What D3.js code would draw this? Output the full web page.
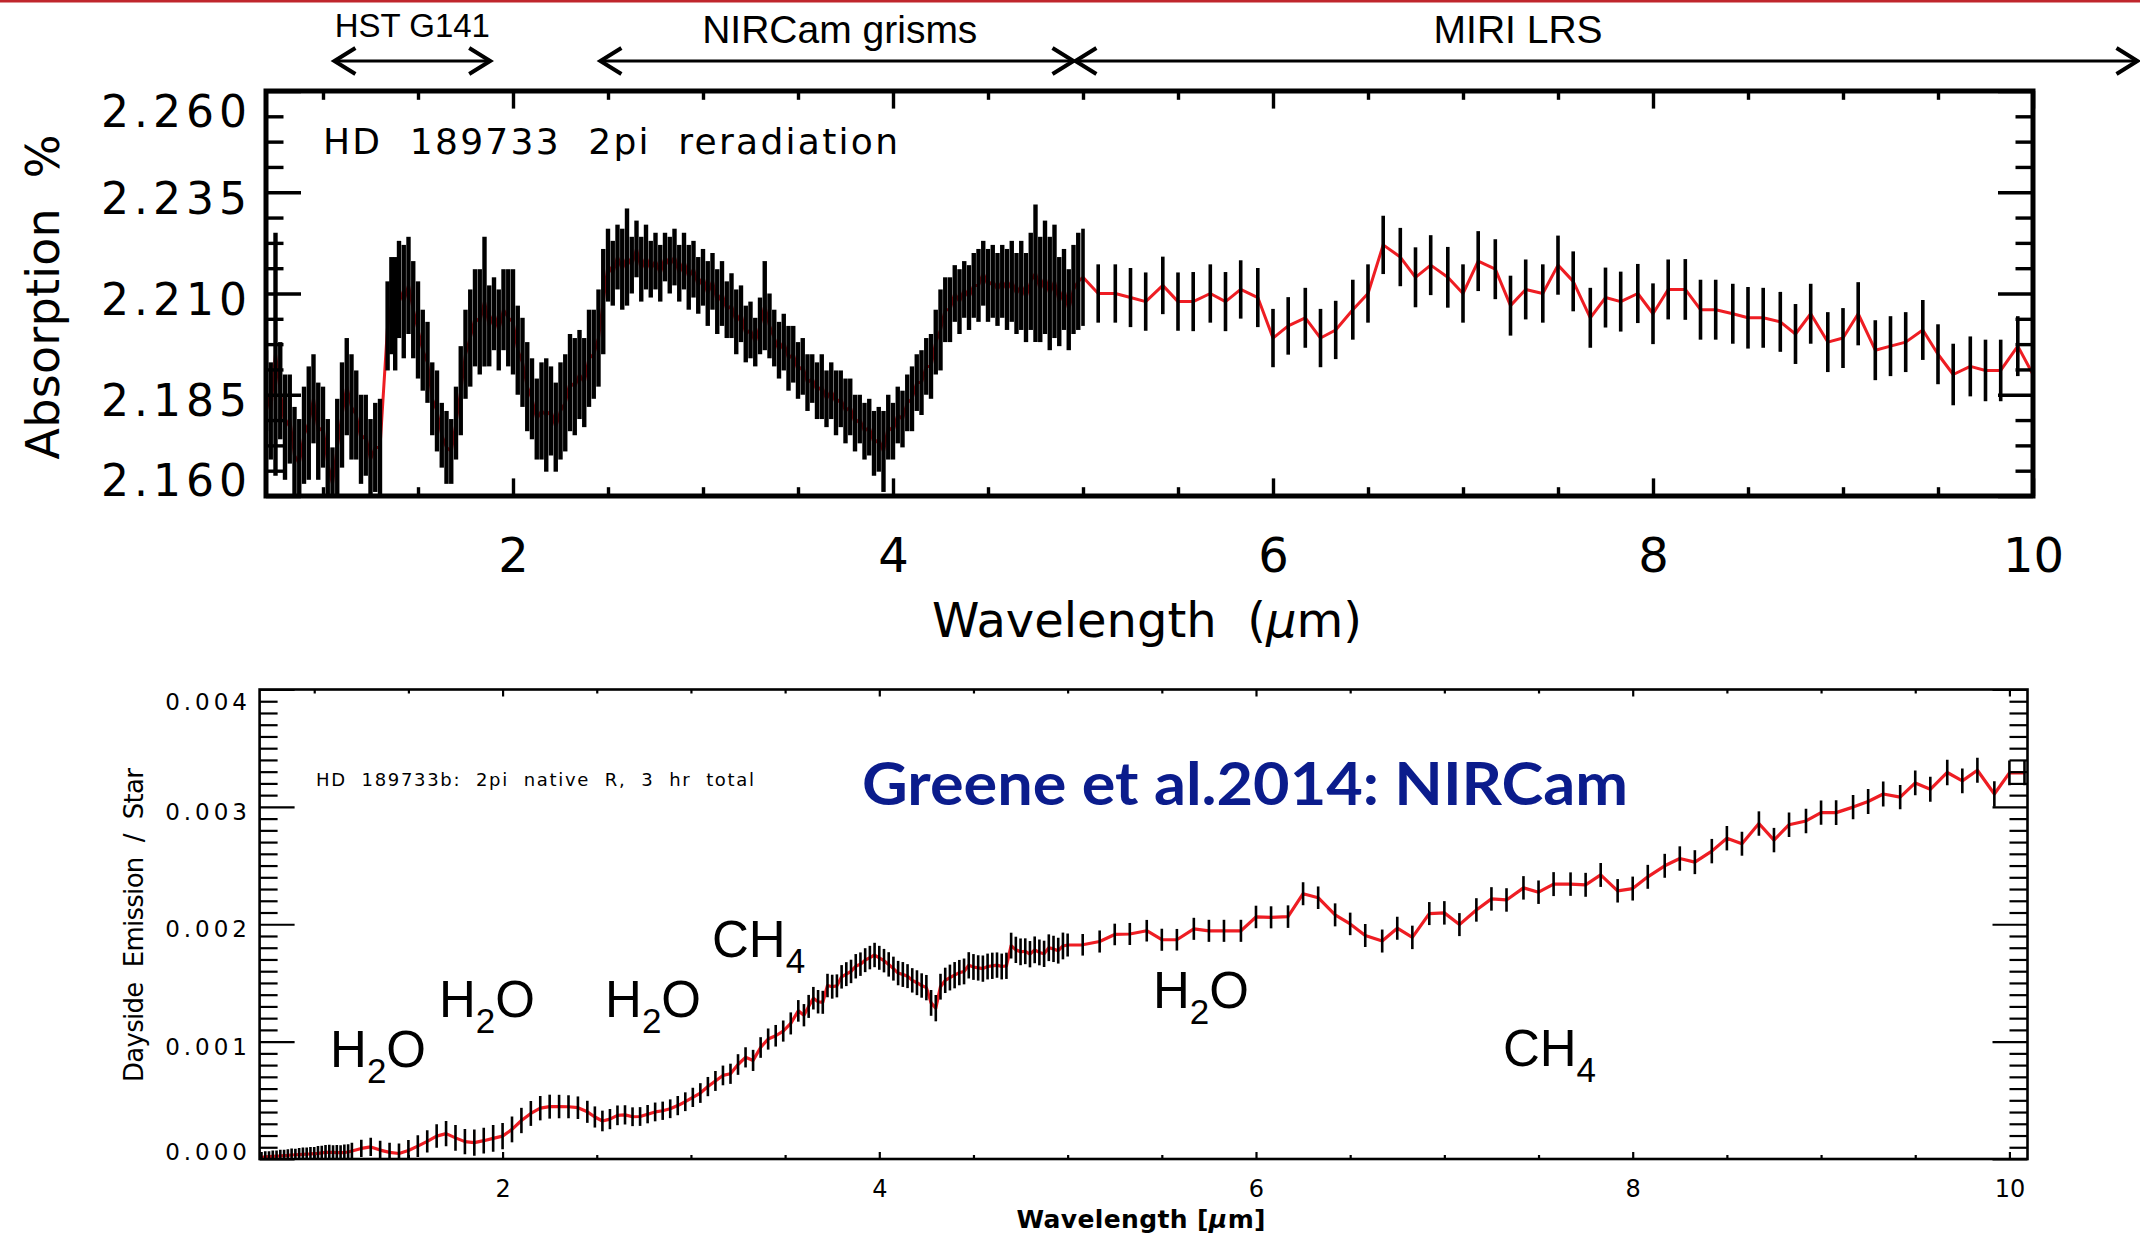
<!DOCTYPE html>
<html>
<head>
<meta charset="utf-8">
<script src="https://cdnjs.cloudflare.com/ajax/libs/d3/7.8.5/d3.min.js"></script>
<style>
  body { margin: 0; background: #fff; }
  svg { display: block; }
</style>
</head>
<body>
<div id="chart"></div>
<script>
// ---------------- data ----------------
var waveTicks = [2, 4, 6, 8, 10]
var waveMinorTicks = [1, 1.5, 2.5, 3, 3.5, 4.5, 5, 5.5, 6.5, 7, 7.5, 8.5, 9, 9.5]
var absTicks = [2.160, 2.185, 2.210, 2.235, 2.260]
var absMinorTicks = [2.16625, 2.1725, 2.17875, 2.19125, 2.1975, 2.20375, 2.21625, 2.2225, 2.22875, 2.24125, 2.2475, 2.25375]
var emisTicks = [0, 0.001, 0.002, 0.003, 0.004]

// instrument ranges drawn as arrows above the top panel (wavelength, um)
var modeNames = ["HST G141", "NIRCam grisms", "MIRI LRS"]
var modeFrom = [1.06, 2.46, 4.96]
var modeTo = [1.88, 4.95, 10.55]
var modeLabelAt = [1.47, 3.72, 7.29]

// top panel: transit absorption, dense part (HST + NIRCam)
var topNirWave = [0.7,0.725,0.75,0.775,0.8,0.825,0.85,0.875,0.9,0.925,0.95,0.975,1,1.025,1.05,1.075,1.1,1.125,1.15,1.175,1.2,1.225,1.25,1.275,1.3,
  1.34,1.36,1.38,1.4,1.425,1.45,1.475,1.5,1.525,1.55,1.575,1.6,1.625,1.65,1.675,1.7,1.725,1.75,1.775,1.8,1.825,1.85,1.875,1.9,1.925,1.95,1.975,2,2.025,2.05,2.075,2.1,2.125,2.15,2.175,2.2,2.225,2.25,2.275,2.3,2.325,2.35,2.375,2.4,2.425,2.45,2.475,
  2.5,2.525,2.55,2.575,2.6,2.625,2.65,2.675,2.7,2.725,2.75,2.775,2.8,2.825,2.85,2.875,2.9,2.925,2.95,2.975,
  3,3.025,3.05,3.075,3.1,3.125,3.15,3.175,3.2,3.225,3.25,3.275,3.3,3.325,3.35,3.375,3.4,3.425,3.45,3.475,
  3.5,3.525,3.55,3.575,3.6,3.625,3.65,3.675,3.7,3.725,3.75,3.775,3.8,3.825,3.85,3.875,3.9,3.925,3.95,3.975,
  4,4.025,4.05,4.075,4.1,4.125,4.15,4.175,4.2,4.225,4.25,4.275,4.3,4.325,4.35,4.375,4.4,4.425,4.45,4.475,
  4.5,4.525,4.55,4.575,4.6,4.625,4.65,4.675,4.7,4.725,4.75,4.775,4.8,4.825,4.85,4.875,4.9,4.925,4.95,4.975]
var topNirAbs = [2.186,2.181,2.195,2.186,2.177,2.179,2.170,2.168,2.175,2.178,2.184,2.176,2.177,2.168,2.163,2.172,2.180,2.187,2.182,2.180,2.174,2.175,2.169,2.172,2.172,
  2.202,2.207,2.205,2.211,2.208,2.212,2.206,2.201,2.196,2.193,2.184,2.181,2.175,2.172,2.171,2.178,2.186,2.195,2.199,2.204,2.203,2.208,2.202,2.205,2.201,2.206,2.204,2.203,2.196,2.193,2.187,2.184,2.179,2.181,2.180,2.181,2.177,2.181,2.183,2.188,2.187,2.190,2.188,2.194,2.195,2.199,2.208,
  2.217,2.215,2.219,2.216,2.219,2.217,2.221,2.216,2.219,2.216,2.218,2.215,2.219,2.217,2.219,2.215,2.218,2.214,2.216,2.212,
  2.214,2.210,2.213,2.208,2.210,2.206,2.207,2.203,2.205,2.200,2.201,2.198,2.202,2.207,2.202,2.199,2.196,2.198,2.194,2.195,
  2.191,2.192,2.188,2.189,2.186,2.187,2.184,2.186,2.183,2.184,2.181,2.182,2.178,2.179,2.176,2.177,2.173,2.174,2.171,2.177,
  2.176,2.180,2.179,2.183,2.184,2.188,2.188,2.192,2.192,2.198,2.201,2.206,2.206,2.210,2.208,2.211,2.209,2.212,2.212,2.215,
  2.212,2.213,2.211,2.213,2.211,2.213,2.210,2.212,2.209,2.213,2.215,2.211,2.214,2.210,2.213,2.208,2.211,2.206,2.211,2.213]
var topNirErr = [0.010,0.012,0.030,0.012,0.013,0.011,0.012,0.011,0.012,0.014,0.011,0.012,0.010,0.011,0.009,0.012,0.013,0.012,0.013,0.011,0.011,0.010,0.010,0.011,0.012,
  0.011,0.012,0.014,0.012,0.014,0.012,0.012,0.012,0.010,0.010,0.009,0.010,0.008,0.009,0.008,0.009,0.011,0.011,0.012,0.012,0.013,0.016,0.010,0.009,0.010,0.010,0.012,0.013,0.011,0.011,0.011,0.010,0.010,0.012,0.014,0.011,0.011,0.012,0.012,0.012,0.012,0.011,0.011,0.012,0.011,0.012,0.013,
  0.009,0.008,0.008,0.010,0.012,0.007,0.007,0.008,0.008,0.007,0.007,0.007,0.006,0.007,0.007,0.007,0.007,0.008,0.007,0.007,
  0.007,0.008,0.007,0.008,0.008,0.007,0.008,0.008,0.007,0.007,0.007,0.006,0.007,0.011,0.008,0.007,0.007,0.007,0.008,0.007,
  0.007,0.007,0.007,0.006,0.007,0.008,0.007,0.007,0.008,0.007,0.008,0.007,0.007,0.006,0.007,0.007,0.008,0.008,0.010,0.008,
  0.007,0.007,0.007,0.007,0.008,0.007,0.008,0.007,0.008,0.008,0.010,0.008,0.008,0.007,0.008,0.007,0.008,0.008,0.009,0.008,
  0.009,0.009,0.009,0.009,0.010,0.010,0.010,0.011,0.011,0.012,0.017,0.013,0.014,0.014,0.014,0.011,0.010,0.010,0.011,0.012]

// MIRI LRS grid (shared by both panels)
var miriWave = [5.00,5.08,5.17,5.25,5.33,5.42,5.50,5.58,5.67,5.75,5.83,5.92,6.00,6.08,6.17,6.25,6.33,6.42,6.50,6.58,6.67,6.75,6.83,6.92,7.00,7.08,7.17,7.25,7.33,7.42,
  7.50,7.58,7.67,7.75,7.83,7.92,8.00,8.08,8.17,8.25,8.33,8.42,8.50,8.58,8.67,8.75,8.83,8.92,9.00,9.08,9.17,9.25,9.33,9.42,9.50,9.58,9.67,9.75,9.83,9.92,10.00]
var topMiriAbs = [2.214,2.210,2.210,2.209,2.208,2.212,2.208,2.208,2.210,2.208,2.211,2.209,2.199,2.202,2.204,2.199,2.201,2.206,2.210,2.222,
  2.219,2.214,2.217,2.214,2.210,2.218,2.216,2.207,2.211,2.210,2.217,2.213,2.204,2.209,2.208,2.210,2.205,2.211,2.211,2.206,
  2.206,2.205,2.204,2.204,2.203,2.200,2.205,2.198,2.199,2.205,2.196,2.197,2.198,2.201,2.195,2.190,2.192,2.191,2.191,2.197,2.190]
var topMiriErr = [0.012,0.0072,0.0072,0.0073,0.0072,0.0071,0.0072,0.0073,0.0072,0.0073,0.0072,0.0073,0.0072,0.0071,0.0074,0.0072,0.0072,0.0074,0.0072,0.0072,
  0.0072,0.0074,0.0074,0.0075,0.0072,0.0074,0.0074,0.0074,0.0074,0.0072,0.0073,0.0074,0.0074,0.0074,0.0074,0.0073,0.0075,0.0074,0.0075,0.0074,
  0.0074,0.0074,0.0076,0.0074,0.0074,0.0074,0.0074,0.0074,0.0074,0.0078,0.0074,0.0074,0.0074,0.0074,0.0074,0.0076,0.0074,0.0076,0.0076,0.0074,0.0072]

// bottom panel: dayside emission / star
var lowNirWave = [0.72,0.74,0.76,0.78,0.8,0.82,0.84,0.86,0.88,0.9,0.92,0.94,0.96,0.98,1,1.02,1.04,1.06,1.08,1.1,1.12,1.14,1.16,1.18,1.2,
  1.25,1.3,1.35,1.4,1.45,1.5,1.55,1.6,1.65,1.7,1.75,1.8,1.85,1.9,1.95,2,2.05,2.1,2.15,2.2,2.25,2.3,2.35,2.4,2.45,
  2.49,2.53,2.57,2.61,2.65,2.69,2.73,2.77,2.81,2.85,2.89,2.93,2.97,3.01,3.05,3.09,3.13,3.17,3.21,3.25,3.29,3.33,3.37,3.41,3.45,3.49,3.53,3.57,
  3.6,3.625,3.65,3.675,3.7,3.725,3.75,3.775,3.8,3.825,3.85,3.875,3.9,3.925,3.95,3.975,4,4.025,4.05,4.075,4.1,4.125,4.15,4.175,4.2,4.225,4.25,4.275,
  4.3,4.325,4.35,4.375,4.4,4.425,4.45,4.475,4.5,4.525,4.55,4.575,4.6,4.625,4.65,4.675,4.7,4.725,4.75,4.775,4.8,4.825,4.85,4.875,4.9,4.925,4.95,4.975]
var lowNirEmis = [0.000015,0.000018,0.000020,0.000022,0.000024,0.000026,0.000029,0.000031,0.000034,0.000036,0.000038,0.000040,0.000042,0.000043,0.000045,0.000048,0.000052,0.000056,0.000057,0.000056,0.000054,0.000054,0.000055,0.000060,0.000068,
  0.000090,0.000103,0.000076,0.000056,0.000047,0.000072,0.000110,0.000150,0.000195,0.000216,0.000180,0.000148,0.000139,0.000156,0.000176,0.000195,0.000252,0.000328,0.000388,0.000433,0.000446,0.000447,0.000445,0.000437,0.000402,
  0.000358,0.000324,0.000340,0.000372,0.000376,0.000360,0.000362,0.000382,0.000401,0.000411,0.000428,0.000455,0.000488,0.000525,0.000562,0.000617,0.000665,0.000712,0.000726,0.000805,0.000866,0.000840,0.000950,0.001022,0.001050,0.001090,0.001155,0.001262,
  0.001225,0.001300,0.001370,0.001340,0.001335,0.001478,0.001468,0.001475,0.001552,0.001575,0.001598,0.001642,0.001660,0.001694,0.001716,0.001738,0.001714,0.001690,0.001658,0.001622,0.001584,0.001572,0.001558,0.001522,0.001502,0.001478,0.001460,0.001330,
  0.001285,0.001468,0.001522,0.001546,0.001566,0.001588,0.001598,0.001650,0.001636,0.001628,0.001622,0.001640,0.001646,0.001652,0.001640,0.001646,0.001818,0.001782,0.001765,0.001770,0.001745,0.001782,0.001760,0.001748,0.001800,0.001790,0.001775,0.001815]
var lowNirErr = [0.000045,0.000048,0.000046,0.000050,0.000049,0.000052,0.000050,0.000053,0.000055,0.000052,0.000056,0.000058,0.000055,0.000060,0.000058,0.000062,0.000060,0.000063,0.000065,0.000062,0.000066,0.000064,0.000068,0.000066,0.000070,
  0.000074,0.000078,0.000080,0.000082,0.000085,0.000090,0.000092,0.000095,0.000100,0.000108,0.000110,0.000108,0.000112,0.000110,0.000114,0.000112,0.000110,0.000108,0.000106,0.000104,0.000102,0.000100,0.000098,0.000096,0.000094,
  0.000090,0.000088,0.000086,0.000084,0.000082,0.000080,0.000080,0.000078,0.000080,0.000078,0.000080,0.000082,0.000080,0.000082,0.000084,0.000082,0.000085,0.000084,0.000086,0.000088,0.000086,0.000090,0.000088,0.000090,0.000092,0.000090,0.000094,0.000092,
  0.000095,0.000098,0.000096,0.000100,0.000098,0.000100,0.000102,0.000098,0.000100,0.000102,0.000100,0.000104,0.000100,0.000102,0.000100,0.000104,0.000102,0.000100,0.000104,0.000102,0.000104,0.000106,0.000102,0.000104,0.000106,0.000104,0.000108,0.000110,
  0.000112,0.000110,0.000108,0.000110,0.000112,0.000108,0.000110,0.000112,0.000110,0.000108,0.000112,0.000110,0.000112,0.000108,0.000110,0.000112,0.000110,0.000112,0.000114,0.000110,0.000112,0.000114,0.000110,0.000112,0.000114,0.000112,0.000110,0.000114]
var lowMiriWave = miriWave.concat([10.08])
var lowMiriEmis = [0.001823,0.001825,0.001853,0.001913,0.001917,0.001945,0.001868,0.001868,0.001961,0.001944,
  0.001944,0.001944,0.002062,0.002059,0.002065,0.002260,0.002226,0.002080,0.002003,0.001904,
  0.001857,0.001966,0.001888,0.002091,0.002097,0.001997,0.002122,0.002216,0.002207,0.002310,
  0.002273,0.002342,0.002342,0.002336,0.002420,0.002285,0.002304,0.002404,0.002498,0.002560,
  0.002529,0.002623,0.002733,0.002686,0.002858,0.002717,0.002848,0.002880,0.002951,0.002951,
  0.002998,0.003046,0.003110,0.003083,0.003204,0.003150,0.003293,0.003222,0.003312,0.003110,
  0.003290,0.003290]
var lowMiriErr = [0.000098,0.000092,0.000094,0.000092,0.000094,0.000092,0.000094,0.000092,0.000094,0.000094,
  0.000094,0.000094,0.000096,0.000094,0.000096,0.000098,0.000096,0.000098,0.000096,0.000098,
  0.000098,0.000098,0.000100,0.000098,0.000100,0.000098,0.000100,0.000100,0.000100,0.000100,
  0.000100,0.000102,0.000100,0.000102,0.000102,0.000100,0.000102,0.000102,0.000102,0.000104,
  0.000102,0.000104,0.000104,0.000102,0.000104,0.000104,0.000104,0.000104,0.000104,0.000106,
  0.000104,0.000106,0.000106,0.000104,0.000106,0.000106,0.000108,0.000106,0.000106,0.000108,
  0.000106,0.000106]

// molecule labels in the bottom panel: left edge wavelength and baseline value
var molName = ["H", "H", "H", "CH", "H", "CH"]
var molSub = ["2", "2", "2", "4", "2", "4"]
var molTail = ["O", "O", "O", "", "O", ""]
var molWave = [1.084, 1.662, 2.544, 3.112, 5.453, 7.311]
var molValue = [0.000786, 0.001212, 0.001212, 0.001724, 0.001284, 0.000792]

// ---------------- drawing ----------------
var W = 2140, H = 1236
var RED = "#ee1d23"
var IDL = "'DejaVu Sans', sans-serif"
var SLIDE = "'Liberation Sans', Arial, sans-serif"

var svg = d3.select("#chart").append("svg").attr("width", W).attr("height", H)
svg.append("rect").attr("width", W).attr("height", H).attr("fill", "#fff")
svg.append("rect").attr("x", 0).attr("y", 0).attr("width", W).attr("height", 2.5).attr("fill", "#c0262d")

function series(wave, vals, errs) {
  var n = Math.min(wave.length, vals.length, errs.length)
  var out = []
  for (var i = 0; i < n; i++) out.push({w: wave[i], v: vals[i], e: errs[i]})
  return out
}

function styleAxis(g, w) {
  g.select(".domain").remove()
  g.selectAll(".tick line").attr("stroke", "#000").attr("stroke-width", w)
}

function sideTicks(parent, axisFn, scale, values, size, tx, ty, w) {
  var g = parent.append("g").attr("transform", "translate(" + tx + "," + ty + ")")
    .call(axisFn(scale).tickValues(values).tickSizeInner(-size).tickSizeOuter(0).tickFormat(""))
  styleAxis(g, w)
  return g
}

function drawPanel(o) {
  var x = o.x, y = o.y
  var x0 = x.range()[0], x1 = x.range()[1], yb = y.range()[0], yt = y.range()[1]
  var g = svg.append("g")
  g.append("clipPath").attr("id", o.id).append("rect")
    .attr("x", x0).attr("y", yt).attr("width", x1 - x0).attr("height", yb - yt)
  var plot = g.append("g").attr("clip-path", "url(#" + o.id + ")")

  plot.append("path").datum(o.data)
    .attr("d", d3.line().x(function(d){ return x(d.w) }).y(function(d){ return y(d.v) }))
    .attr("fill", "none").attr("stroke", RED).attr("stroke-width", o.lineW)
    .attr("stroke-linejoin", "round")
  plot.selectAll("line.err").data(o.data).enter().append("line")
    .attr("class", "err")
    .attr("x1", function(d){ return x(d.w) }).attr("x2", function(d){ return x(d.w) })
    .attr("y1", function(d){ return y(d.v - d.e) }).attr("y2", function(d){ return y(d.v + d.e) })
    .attr("stroke", "#000")
    .attr("stroke-width", function(d){ return d.w < o.denseTo ? o.denseBarW : o.barW })

  // bottom axis with labels
  var gb = g.append("g").attr("transform", "translate(0," + yb + ")")
    .call(d3.axisBottom(x).tickValues(waveTicks).tickSizeInner(-o.xMajor).tickSizeOuter(0).tickFormat(d3.format("d")))
  styleAxis(gb, o.tickW)
  gb.selectAll("text").attr("y", o.xLabelY).attr("dy", null).attr("fill", "#000")
    .style("font-family", IDL).style("font-size", o.xLabelSize + "px")
  sideTicks(g, d3.axisBottom, x, waveMinorTicks, o.xMinor, 0, yb, o.tickW)
  sideTicks(g, d3.axisTop, x, waveTicks, o.xMajor, 0, yt, o.tickW)
  sideTicks(g, d3.axisTop, x, waveMinorTicks, o.xMinor, 0, yt, o.tickW)

  // left axis with labels
  var gl = g.append("g").attr("transform", "translate(" + x0 + ",0)")
    .call(d3.axisLeft(y).tickValues(o.yTicks).tickSizeInner(-o.yMajor).tickSizeOuter(0).tickFormat(d3.format(".3f")))
  styleAxis(gl, o.tickW)
  var lo = o.yTicks[0], hi = o.yTicks[o.yTicks.length - 1]
  gl.selectAll("text").attr("x", o.yLabelX).attr("dy", "0.32em")
    .attr("y", function(d){ return d === hi ? o.yShiftTop : (d === lo ? o.yShiftBottom : o.yShiftMid) })
    .attr("fill", "#000")
    .style("font-family", IDL).style("font-size", o.yLabelSize + "px").style("letter-spacing", o.yLabelSpacing + "px")
  sideTicks(g, d3.axisLeft, y, o.yMinor, o.yMinorLen, x0, 0, o.tickW)
  sideTicks(g, d3.axisRight, y, o.yTicks, o.yMajor, x1, 0, o.tickW)
  sideTicks(g, d3.axisRight, y, o.yMinor, o.yMinorLen, x1, 0, o.tickW)

  g.append("rect").attr("x", x0).attr("y", yt).attr("width", x1 - x0).attr("height", yb - yt)
    .attr("fill", "none").attr("stroke", "#000").attr("stroke-width", o.frameW)
  return g
}

// ---- top panel
var xTop = d3.scaleLinear().domain([0.7, 10]).range([266, 2033])
var yTop = d3.scaleLinear().domain([2.16, 2.26]).range([496, 91])
var topData = series(topNirWave, topNirAbs, topNirErr).concat(series(miriWave, topMiriAbs, topMiriErr))

var gTop = drawPanel({
  id: "clipTop", x: xTop, y: yTop, data: topData, lineW: 3, barW: 3.6, denseTo: 4.99, denseBarW: 4.4,
  xMajor: 17.6, xMinor: 8.8, yMajor: 35, yMinorLen: 17.5, tickW: 3.4, frameW: 5,
  xLabelY: 76, xLabelSize: 48,
  yTicks: absTicks, yMinor: absMinorTicks, yLabelX: -14, yLabelSize: 44, yLabelSpacing: 5,
  yShiftTop: 21, yShiftMid: 7, yShiftBottom: -15
})

gTop.append("text").attr("x", 323).attr("y", 154)
  .attr("textLength", 575).attr("lengthAdjust", "spacing")
  .style("font-family", IDL).style("font-size", "36px")
  .text("HD\u00a0 189733\u00a0 2pi\u00a0 reradiation")

gTop.append("text").attr("transform", "translate(59,297) rotate(-90)")
  .attr("text-anchor", "middle").attr("textLength", 325).attr("lengthAdjust", "spacing")
  .style("font-family", IDL).style("font-size", "46px")
  .text("Absorption\u00a0 %")

var tTitle = gTop.append("text").attr("x", 1147).attr("y", 637).attr("text-anchor", "middle")
  .style("font-family", IDL).style("font-size", "48px")
tTitle.append("tspan").text("Wavelength\u00a0 (")
tTitle.append("tspan").style("font-style", "italic").text("\u03bc")
tTitle.append("tspan").text("m)")

// instrument arrows
var arrowY = 61
var modes = svg.append("g")
modeNames.forEach(function(name, i){
  var a = xTop(modeFrom[i]), b = xTop(modeTo[i])
  modes.append("line").attr("x1", a).attr("x2", b).attr("y1", arrowY).attr("y2", arrowY)
    .attr("stroke", "#000").attr("stroke-width", 3.2)
  modes.append("path").attr("d", "M" + (a + 21) + "," + (arrowY - 13) + "L" + a + "," + arrowY + "L" + (a + 21) + "," + (arrowY + 13))
    .attr("fill", "none").attr("stroke", "#000").attr("stroke-width", 4)
  modes.append("path").attr("d", "M" + (b - 21) + "," + (arrowY - 13) + "L" + b + "," + arrowY + "L" + (b - 21) + "," + (arrowY + 13))
    .attr("fill", "none").attr("stroke", "#000").attr("stroke-width", 4)
  modes.append("text").attr("x", xTop(modeLabelAt[i])).attr("y", i === 0 ? 37 : 43)
    .attr("text-anchor", "middle")
    .style("font-family", SLIDE).style("font-size", (i === 0 ? 33 : 39) + "px")
    .text(name)
})

// ---- bottom panel
var xLow = d3.scaleLinear().domain([0.71, 10.096]).range([259.6, 2027.5])
var yLow = d3.scaleLinear().domain([0, 0.004]).range([1159, 689.5])
var lowData = series(lowNirWave, lowNirEmis, lowNirErr).concat(series(lowMiriWave, lowMiriEmis, lowMiriErr))
var emisMinor = yLow.ticks(40).filter(function(d){ return Math.round(d * 10000) % 10 !== 0 })

var gLow = drawPanel({
  id: "clipLow", x: xLow, y: yLow, data: lowData, lineW: 3.2, barW: 2.6, denseTo: 0, denseBarW: 2.6,
  xMajor: 7, xMinor: 4, yMajor: 35, yMinorLen: 18, tickW: 2.2, frameW: 2.6,
  xLabelY: 38, xLabelSize: 24,
  yTicks: emisTicks, yMinor: emisMinor, yLabelX: -8.6, yLabelSize: 23, yLabelSpacing: 4,
  yShiftTop: 13, yShiftMid: 5, yShiftBottom: -6.5
})

gLow.append("text").attr("x", 316).attr("y", 786)
  .attr("textLength", 438).attr("lengthAdjust", "spacing")
  .style("font-family", IDL).style("font-size", "18px")
  .text("HD\u00a0 189733b:\u00a0 2pi\u00a0 native\u00a0 R,\u00a0 3\u00a0 hr\u00a0 total")

gLow.append("text").attr("x", 862).attr("y", 805)
  .attr("textLength", 766).attr("lengthAdjust", "spacingAndGlyphs")
  .attr("fill", "#0b1c8c")
  .style("font-family", "Lato, 'Open Sans', sans-serif").style("font-weight", "bold").style("font-size", "60px")
  .text("Greene et al.2014: NIRCam")

gLow.append("text").attr("transform", "translate(143,925) rotate(-90)")
  .attr("text-anchor", "middle").attr("textLength", 314).attr("lengthAdjust", "spacing")
  .style("font-family", IDL).style("font-size", "26px")
  .text("Dayside\u00a0 Emission\u00a0 /\u00a0 Star")

var tLow = gLow.append("text").attr("x", 1141).attr("y", 1228).attr("text-anchor", "middle")
  .attr("textLength", 249).attr("lengthAdjust", "spacing")
  .style("font-family", IDL).style("font-size", "25px").style("font-weight", "bold")
tLow.append("tspan").text("Wavelength [")
tLow.append("tspan").style("font-style", "italic").text("\u03bc")
tLow.append("tspan").text("m]")

molName.forEach(function(nm, i){
  var t = gLow.append("text").attr("x", xLow(molWave[i])).attr("y", yLow(molValue[i]))
    .style("font-family", SLIDE).style("font-size", "51px")
  t.append("tspan").text(nm)
  t.append("tspan").attr("dy", 16).style("font-size", "35px").text(molSub[i])
  if (molTail[i]) t.append("tspan").attr("dy", -16).text(molTail[i])
})
</script>
</body>
</html>
